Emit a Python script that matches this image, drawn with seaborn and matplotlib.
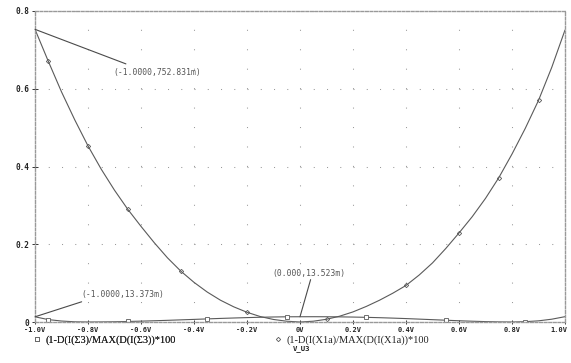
import matplotlib
matplotlib.use("Agg")
import matplotlib.pyplot as plt
import seaborn as sns
import pandas as pd
from matplotlib.lines import Line2D
from matplotlib.transforms import ScaledTranslation

# ---------------- data ----------------
voltage = [-1.00, -0.95, -0.90, -0.85, -0.80, -0.75, -0.70, -0.65, -0.60, -0.55,
           -0.50, -0.45, -0.40, -0.35, -0.30, -0.25, -0.20, -0.15, -0.10, -0.05,
           0.00, 0.05, 0.10, 0.15, 0.20, 0.25, 0.30, 0.35, 0.40, 0.45,
           0.50, 0.55, 0.60, 0.65, 0.70, 0.75, 0.80, 0.85, 0.90, 0.95, 1.00]

sigma3_pct = [0.013373, 0.0062, 0.0025, 0.0005, 0.0, 0.0002, 0.0006, 0.0013, 0.0022, 0.0032,
              0.0043, 0.0055, 0.0067, 0.0080, 0.0092, 0.0103, 0.0113, 0.0122, 0.0129, 0.0134,
              0.013523, 0.0136, 0.0135, 0.0132, 0.0127, 0.0120, 0.0111, 0.0100, 0.0088, 0.0074,
              0.0060, 0.0046, 0.0032, 0.0020, 0.0010, 0.0003, 0.0, 0.0008, 0.0030, 0.0072, 0.0137]

x1a_pct = [0.752831, 0.671, 0.592, 0.520, 0.453, 0.393, 0.339, 0.290, 0.246, 0.204,
           0.165, 0.131, 0.102, 0.077, 0.056, 0.039, 0.025, 0.014, 0.0065, 0.002,
           0.0, 0.002, 0.007, 0.015, 0.026, 0.040, 0.056, 0.074, 0.094, 0.121,
           0.152, 0.189, 0.229, 0.271, 0.318, 0.371, 0.432, 0.498, 0.570, 0.655, 0.751]

series_labels = ["(1-D(I(\u03a33)/MAX(D(I(\u03a33))*100",
                 "(1-D(I(X1a)/MAX(D(I(X1a))*100"]

x_tick_vals = [-1.0, -0.8, -0.6, -0.4, -0.2, 0.0, 0.2, 0.4, 0.6, 0.8, 1.0]
x_tick_labels = ["-1.0V", "-0.8V", "-0.6V", "-0.4V", "-0.2V", "0V",
                 "0.2V", "0.4V", "0.6V", "0.8V", "1.0V"]
y_tick_vals = [0.0, 0.2, 0.4, 0.6, 0.8]
y_tick_labels = ["0", "0.2", "0.4", "0.6", "0.8"]
x_axis_title = "V_U3"

annot_points = [(-1.0, 0.752831), (-1.0, 0.013373), (0.0, 0.013523)]
annot_texts = ["(-1.0000,752.831m)", "(-1.0000,13.373m)", "(0.000,13.523m)"]
annot_line_ends = [(-0.657, 0.664), (-0.824, 0.052), (0.040, 0.109)]
annot_text_pos = [(-0.706, 0.643), (-0.826, 0.072), (-0.106, 0.126)]

# ---------------- style ----------------
sns.set_theme(style="white")
plt.rcParams["lines.scale_dashes"] = False
mono = ["DejaVu Sans Mono"]
serif = ["Liberation Serif", "DejaVu Serif"]
line_col = "#5a5a5a"
grid_col = "#9a9a9a"

df = pd.DataFrame({"V": voltage, "s3": sigma3_pct, "x1a": x1a_pct})

fig = plt.figure(figsize=(5.71, 3.63), dpi=100)
fig.patch.set_facecolor("white")
ax = fig.add_axes([35 / 571, 41 / 363, 530 / 571, 311 / 363])
ax.set_facecolor("white")

sns.lineplot(data=df, x="V", y="s3", ax=ax, color=line_col, linewidth=0.8,
             marker="s", markersize=3, markerfacecolor="white",
             markeredgecolor=line_col, markeredgewidth=0.6,
             markevery=(0.0112, 0.132), sort=False)
sns.lineplot(data=df, x="V", y="x1a", ax=ax, color=line_col, linewidth=0.8,
             marker="D", markersize=2.2, markerfacecolor="none",
             markeredgecolor=line_col, markeredgewidth=0.6,
             markevery=(0.0746, 0.1303), sort=False)

ax.set_xlim(-1.0, 1.0)
ax.set_ylim(0.0, 0.8)
ax.set_xticks(x_tick_vals)
ax.set_xticklabels(x_tick_labels, fontfamily=mono, fontsize=5.0,
                   fontweight="bold", color="#222222")
ax.set_yticks(y_tick_vals)
ax.set_yticklabels(y_tick_labels, fontfamily=mono, fontsize=5.6,
                   fontweight="bold", color="#222222")
ax.set_xlabel("")
ax.set_ylabel("")
ax.tick_params(axis="x", direction="inout", length=3, width=0.7,
               color="#333333", pad=2.0, bottom=True)
ax.tick_params(axis="y", direction="inout", length=5, width=0.7,
               color="#333333", pad=1.5, left=True)

# keep the end labels inside the figure like the reference
xt = ax.get_xticklabels()
xt[-1].set_transform(xt[-1].get_transform() + ScaledTranslation(-6 / 100, 0, fig.dpi_scale_trans))

# PSpice-like dotted grid
ax.xaxis.grid(True, color=grid_col, linewidth=0.75,
              linestyle=(0, (0.75, 13.25)))
ax.yaxis.grid(True, color=grid_col, linewidth=0.75,
              linestyle=(0, (0.75, 8.79)))
ax.set_axisbelow(True)

for sp in ax.spines.values():
    sp.set_visible(True)
    sp.set_color("#999999")
    sp.set_linewidth(1.0)
    sp.set_linestyle((0, (2.0, 1.3)))

# annotations
for (px, py), txt, (ex, ey), (tx, ty) in zip(annot_points, annot_texts,
                                             annot_line_ends, annot_text_pos):
    ax.annotate("", xy=(px, py), xytext=(ex, ey),
                arrowprops=dict(arrowstyle="-", color="#4a4a4a", lw=0.8,
                                shrinkA=0, shrinkB=0))
    ax.text(tx, ty, txt, fontfamily=mono, fontsize=5.75, color="#555555",
            ha="left", va="center")

# legend (marker + label, PSpice style)
h1 = Line2D([], [], linestyle="none", marker="s", markersize=3,
            markerfacecolor="white", markeredgecolor=line_col, markeredgewidth=0.6)
h2 = Line2D([], [], linestyle="none", marker="D", markersize=2.2,
            markerfacecolor="none", markeredgecolor=line_col, markeredgewidth=0.6)
leg1 = fig.legend([h1], [series_labels[0]], loc="center left",
                  bbox_to_anchor=(33 / 571, 23 / 363), frameon=False,
                  prop={"family": serif, "size": 7.5}, handlelength=0.8,
                  handletextpad=0.4, borderpad=0, borderaxespad=0)
fig.add_artist(leg1)
leg2 = fig.legend([h2], [series_labels[1]], loc="center left",
                  bbox_to_anchor=(274 / 571, 23 / 363), frameon=False,
                  prop={"family": serif, "size": 7.5}, handlelength=0.8,
                  handletextpad=0.4, borderpad=0, borderaxespad=0)
for lg in (leg1, leg2):
    for t in lg.get_texts():
        t.set_color("#222222")

fig.text(293 / 571, 1 - 349 / 363, x_axis_title, fontfamily=mono, fontsize=5.2,
         fontweight="bold", color="#222222", ha="left", va="center")

fig.savefig("out.png", dpi=100, facecolor="white")
